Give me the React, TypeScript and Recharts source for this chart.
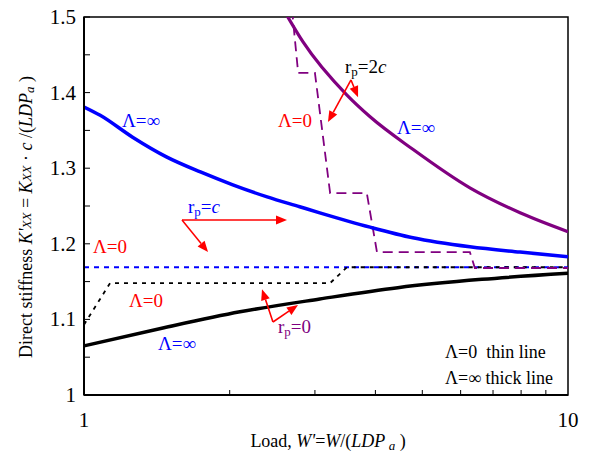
import React from 'react';
import { LineChart, Line, XAxis, YAxis, ReferenceLine, ReferenceDot, ReferenceArea } from 'recharts';

const xTicks = [1, 2, 3, 4, 5, 6, 7, 8, 9, 10];
const yTicks = [1, 1.05, 1.1, 1.15, 1.2, 1.25, 1.3, 1.35, 1.4, 1.45, 1.5];

// rp = c, Λ=∞ (thick blue)
const rcThickX = [1, 1.08, 1.26, 1.48, 1.74, 2.03, 2.39, 2.79, 3.07, 3.9, 4.78, 6.27, 7.96, 10];
const rcThickY = [1.381, 1.37, 1.341, 1.315, 1.295, 1.278, 1.262, 1.249, 1.241, 1.222, 1.208, 1.196, 1.189, 1.183];

// rp = c, Λ=0 (thin blue dashed)
const rcThinX = [1, 10];
const rcThinY = [1.169, 1.169];

// rp = 2c, Λ=∞ (thick purple)
const r2cThickX = [2.62, 2.835, 3.49, 3.9, 4.78, 6.27, 7.96, 10];
const r2cThickY = [1.503, 1.467, 1.397, 1.368, 1.325, 1.274, 1.241, 1.216];

// rp = 2c, Λ=0 (thin purple dashed)
const r2cThinX = [2.69, 2.77, 3.0, 3.225, 3.84, 4.03, 6.27, 6.42, 10];
const r2cThinY = [1.51, 1.426, 1.426, 1.267, 1.267, 1.189, 1.189, 1.168, 1.168];

// rp = 0, Λ=∞ (thick black)
const r0ThickX = [1, 1.463, 2.1, 3.07, 4.45, 6.64, 10];
const r0ThickY = [1.065, 1.089, 1.11, 1.127, 1.142, 1.153, 1.161];

// rp = 0, Λ=0 (thin black dotted)
const r0ThinX = [1, 1.132, 3.224, 3.494, 10];
const r0ThinY = [1.093, 1.148, 1.148, 1.169, 1.169];

const toRows = (xs: number[], ys: number[]) => xs.map((x, i) => ({ x, y: ys[i] }));

const FONT = '"Liberation Serif", "Times New Roman", serif';
const RED = '#FF0000';
const BLUE = '#0000FF';
const PURPLE = '#800080';

const arrowShape = (p: any) => {
  const { x1, y1, x2, y2 } = p;
  const a = Math.atan2(y2 - y1, x2 - x1);
  const len = 11;
  const w = 4.5;
  const bx = x2 - len * Math.cos(a);
  const by = y2 - len * Math.sin(a);
  const px = -Math.sin(a) * w;
  const py = Math.cos(a) * w;
  return (
    <g>
      <line x1={x1} y1={y1} x2={bx} y2={by} stroke={RED} strokeWidth={1.6} />
      <polygon points={`${x2},${y2} ${bx + px},${by + py} ${bx - px},${by - py}`} fill={RED} />
    </g>
  );
};

const Arrow = (x1: number, y1: number, x2: number, y2: number, k: string) => (
  <ReferenceLine
    key={k}
    segment={[{ x: x1, y: y1 }, { x: x2, y: y2 }]}
    shape={arrowShape}
    ifOverflow="visible"
  />
);

const Note = (x: number, y: number, k: string, render: (cx: number, cy: number) => React.ReactNode) => (
  <ReferenceDot
    key={k}
    x={x}
    y={y}
    r={0}
    ifOverflow="visible"
    shape={(p: any) => <g>{render(p.cx, p.cy)}</g>}
  />
);

const lam = (cx: number, cy: number, color: string, sym: string, size = 19) => (
  <text x={cx} y={cy} fill={color} fontFamily={FONT} fontSize={size}>
    Λ={sym}
  </text>
);

const rp = (cx: number, cy: number, color: string, tail: React.ReactNode) => (
  <text x={cx} y={cy} fill={color} fontFamily={FONT} fontSize={19}>
    r<tspan fontSize={13} dy={3}>p</tspan>
    <tspan dy={-3}>=</tspan>
    {tail}
  </text>
);

const XTick = (props: any) => {
  const { x, y, payload } = props;
  const v = payload.value;
  return (
    <g>
      {v !== 1 && v !== 10 && <line x1={x} y1={y - 8} x2={x} y2={y - 13} stroke="#000" strokeWidth={1} />}
      {(v === 1 || v === 10) && (
        <text x={x} y={y + 24} textAnchor="middle" fontFamily={FONT} fontSize={21} fill="#000">
          {v}
        </text>
      )}
    </g>
  );
};

const YTick = (props: any) => {
  const { x, y, payload } = props;
  const v = payload.value;
  const major = Math.abs(v * 10 - Math.round(v * 10)) < 1e-6;
  return (
    <g>
      <line x1={x + 8} y1={y} x2={x + 14} y2={y} stroke="#000" strokeWidth={1} />
      {major && (
        <text x={x} y={y + 7} textAnchor="end" fontFamily={FONT} fontSize={21} fill="#000">
          {String(Math.round(v * 10) / 10)}
        </text>
      )}
    </g>
  );
};

const XTitle = (props: any) => {
  const vb = props.viewBox;
  return (
    <text x={vb.x + vb.width / 2 + 2} y={vb.y + 52} textAnchor="middle" fontFamily={FONT} fontSize={18} fill="#000">
      Load, <tspan fontStyle="italic">W'</tspan>=<tspan fontStyle="italic">W</tspan>/(<tspan fontStyle="italic">LDP</tspan>
      <tspan fontStyle="italic" fontSize={13} dy={3}> a</tspan>
      <tspan dy={-3}> )</tspan>
    </text>
  );
};

const YTitle = (props: any) => {
  const vb = props.viewBox;
  const cx = vb.x + 2;
  const cy = vb.y + vb.height / 2 + 11;
  return (
    <text
      x={cx}
      y={cy}
      transform={`rotate(-90 ${cx} ${cy})`}
      textAnchor="middle"
      dominantBaseline="central"
      fontFamily={FONT}
      fontSize={18}
      fill="#000"
    >
      Direct stiffness  <tspan fontStyle="italic">K'</tspan>
      <tspan fontStyle="italic" fontSize={13}>XX</tspan> = <tspan fontStyle="italic">K</tspan>
      <tspan fontStyle="italic" fontSize={13}>XX</tspan> · <tspan fontStyle="italic">c</tspan> /(<tspan fontStyle="italic">LDP</tspan>
      <tspan fontStyle="italic" fontSize={13} dy={3}>a</tspan>
      <tspan dy={-3}> )</tspan>
    </text>
  );
};

export default function App() {
  return (
    <div style={{ position: 'absolute', left: 0, top: 0, background: '#fff' }}>
      <LineChart width={589} height={456} margin={{ top: 17, right: 21, bottom: 21, left: 24 }}>
        <XAxis
          dataKey="x"
          type="number"
          scale="log"
          domain={[1, 10]}
          ticks={xTicks}
          interval={0}
          allowDataOverflow
          tickLine={false}
          axisLine={{ stroke: '#000', strokeWidth: 2 }}
          tick={XTick}
          height={40}
          label={{ content: XTitle }}
        />
        <YAxis
          type="number"
          domain={[1, 1.5]}
          ticks={yTicks}
          interval={0}
          allowDataOverflow
          tickLine={false}
          axisLine={{ stroke: '#000', strokeWidth: 2 }}
          tick={YTick}
          width={60}
          label={{ content: YTitle }}
        />
        <ReferenceArea x1={1} x2={10} y1={1} y2={1.5} fill="none" stroke="#000" strokeWidth={1.5} />

        <Line data={toRows(rcThinX, rcThinY)} dataKey="y" stroke={BLUE} strokeWidth={2} strokeDasharray="5 5" dot={false} isAnimationActive={false} />
        <Line data={toRows(r0ThinX, r0ThinY)} dataKey="y" stroke="#000" strokeWidth={1.8} strokeDasharray="4 5" dot={false} isAnimationActive={false} />
        <Line data={toRows(r2cThinX, r2cThinY)} dataKey="y" stroke={PURPLE} strokeWidth={1.8} strokeDasharray="10 6" dot={false} isAnimationActive={false} />
        <Line data={toRows(rcThickX, rcThickY)} dataKey="y" type="monotone" stroke={BLUE} strokeWidth={3.5} dot={false} isAnimationActive={false} />
        <Line data={toRows(r2cThickX, r2cThickY)} dataKey="y" type="monotone" stroke={PURPLE} strokeWidth={3.2} dot={false} isAnimationActive={false} />
        <Line data={toRows(r0ThickX, r0ThickY)} dataKey="y" type="monotone" stroke="#000" strokeWidth={3.5} dot={false} isAnimationActive={false} />

        {Arrow(1.594, 1.2315, 2.627, 1.2315, 'a1')}
        {Arrow(1.594, 1.2315, 1.804, 1.189, 'a2')}
        {Arrow(2.457, 1.0966, 2.332, 1.14, 'a3')}
        {Arrow(2.457, 1.0966, 2.768, 1.119, 'a4')}
        {Arrow(3.562, 1.4167, 3.192, 1.361, 'a5')}
        {Arrow(3.562, 1.4167, 3.683, 1.394, 'a6')}

        {Note(1.198, 1.3545, 'n1', (cx, cy) => lam(cx, cy, BLUE, '∞'))}
        {Note(1.64, 1.2407, 'n2', (cx, cy) => rp(cx, cy, BLUE, <tspan fontStyle="italic">c</tspan>))}
        {Note(1.044, 1.1878, 'n3', (cx, cy) => lam(cx, cy, RED, '0'))}
        {Note(1.239, 1.1164, 'n4', (cx, cy) => lam(cx, cy, RED, '0'))}
        {Note(1.422, 1.0595, 'n5', (cx, cy) => lam(cx, cy, BLUE, '∞'))}
        {Note(2.516, 1.082, 'n6', (cx, cy) => rp(cx, cy, PURPLE, <tspan>0</tspan>))}
        {Note(3.461, 1.4259, 'n7', (cx, cy) => rp(cx, cy, '#000', <tspan>2<tspan fontStyle="italic">c</tspan></tspan>))}
        {Note(2.516, 1.3545, 'n8', (cx, cy) => lam(cx, cy, RED, '0'))}
        {Note(4.433, 1.3452, 'n9', (cx, cy) => lam(cx, cy, BLUE, '∞'))}
        {Note(5.57, 1.0489, 'n10', (cx, cy) => (
          <text x={cx} y={cy} fill="#000" fontFamily={FONT} fontSize={18} xmlSpace="preserve">
            Λ=0  thin line
          </text>
        ))}
        {Note(5.57, 1.0146, 'n11', (cx, cy) => (
          <text x={cx} y={cy} fill="#000" fontFamily={FONT} fontSize={18}>
            Λ=∞ thick line
          </text>
        ))}
      </LineChart>
    </div>
  );
}
